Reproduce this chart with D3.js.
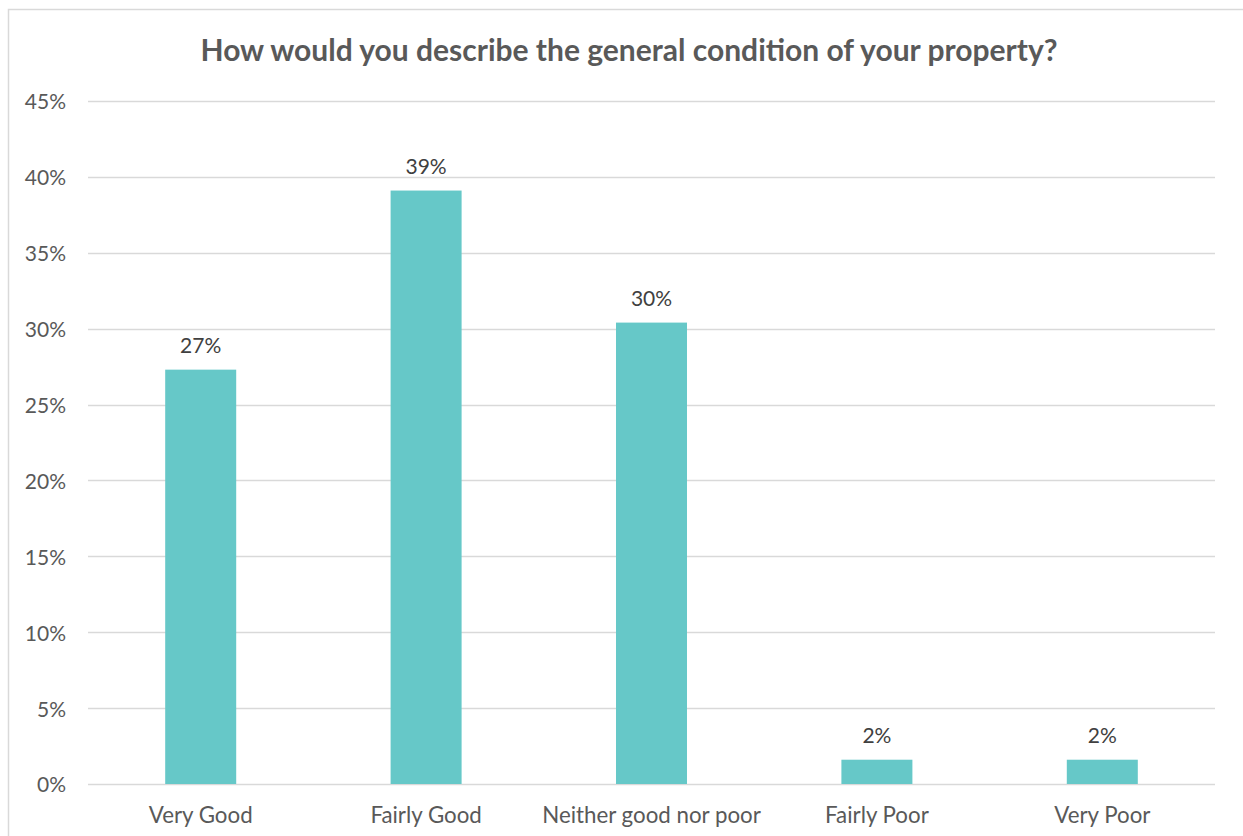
<!DOCTYPE html>
<html>
<head>
<meta charset="utf-8">
<script src="https://cdn.jsdelivr.net/npm/d3@7"></script>
<style>
  html, body { margin: 0; padding: 0; background: #fff; }
  svg { display: block; font-family: Lato, "Open Sans", sans-serif; }
</style>
</head>
<body>
<svg id="chart" width="1243" height="836"></svg>
<script>
// Survey responses: share of respondents per condition rating (%)
const categories = ["Very Good", "Fairly Good", "Neither good nor poor", "Fairly Poor", "Very Poor"];
const values = [27.3, 39.1, 30.4, 1.6, 1.6];
const yTicks = [0, 5, 10, 15, 20, 25, 30, 35, 40, 45];
const title = "How would you describe the general condition of your property?";

const svg = d3.select("#chart");
const margin = { left: 88, right: 28, top: 101, bottom: 52 };
const W = 1243, H = 836;
const labelFont = "Lato, 'Open Sans', sans-serif";

// Outer chart frame
svg.append("rect")
  .attr("x", 8.5).attr("y", 9.5)
  .attr("width", W + 10).attr("height", H + 10)
  .attr("fill", "#fff").attr("stroke", "#d9d9d9").attr("stroke-width", 1.5);

const x = d3.scaleBand()
  .domain(categories)
  .range([margin.left, W - margin.right])
  .paddingInner(0.685).paddingOuter(0.3425);

const y = d3.scaleLinear()
  .domain([0, 45])
  .range([H - margin.bottom, margin.top]);

// Gridlines
svg.append("g")
  .selectAll("line")
  .data(yTicks)
  .join("line")
  .attr("x1", margin.left).attr("x2", W - margin.right)
  .attr("y1", d => Math.round(y(d)) + 0.5).attr("y2", d => Math.round(y(d)) + 0.5)
  .attr("stroke", "#d9d9d9").attr("stroke-width", 1.5);

// Y axis labels
const yAxis = d3.axisLeft(y).tickValues(yTicks).tickFormat(d => d + "%").tickSize(0).tickPadding(22);
const gy = svg.append("g").attr("transform", `translate(${margin.left},0)`).call(yAxis);
gy.select(".domain").remove();
gy.selectAll("text")
  .attr("dy", "0.38em")
  .attr("fill", "#595959").style("font-size", "21px").style("font-family", labelFont);

// Bars
svg.append("g")
  .selectAll("rect")
  .data(values)
  .join("rect")
  .attr("x", (d, i) => x(categories[i]))
  .attr("width", x.bandwidth())
  .attr("y", d => y(d))
  .attr("height", d => y(0) - y(d))
  .attr("fill", "#66c8c8");

// Value labels
svg.append("g")
  .selectAll("text")
  .data(values)
  .join("text")
  .attr("x", (d, i) => x(categories[i]) + x.bandwidth() / 2)
  .attr("y", d => y(d) - 17)
  .attr("text-anchor", "middle")
  .attr("fill", "#404040")
  .style("font-size", "21px")
  .style("font-family", labelFont)
  .text(d => Math.round(d) + "%");

// X axis labels
const xAxis = d3.axisBottom(x).tickSize(0).tickPadding(23);
const gx = svg.append("g").attr("transform", `translate(0,${y(0)})`).call(xAxis);
gx.select(".domain").remove();
gx.selectAll("text")
  .attr("fill", "#595959").style("font-size", "22.3px").style("font-family", labelFont);

// Title
svg.append("text")
  .attr("x", 629).attr("y", 61)
  .attr("text-anchor", "middle")
  .attr("fill", "#595959")
  .style("font-size", "30px").style("font-weight", "bold")
  .style("font-family", labelFont)
  .text(title);
</script>
</body>
</html>
